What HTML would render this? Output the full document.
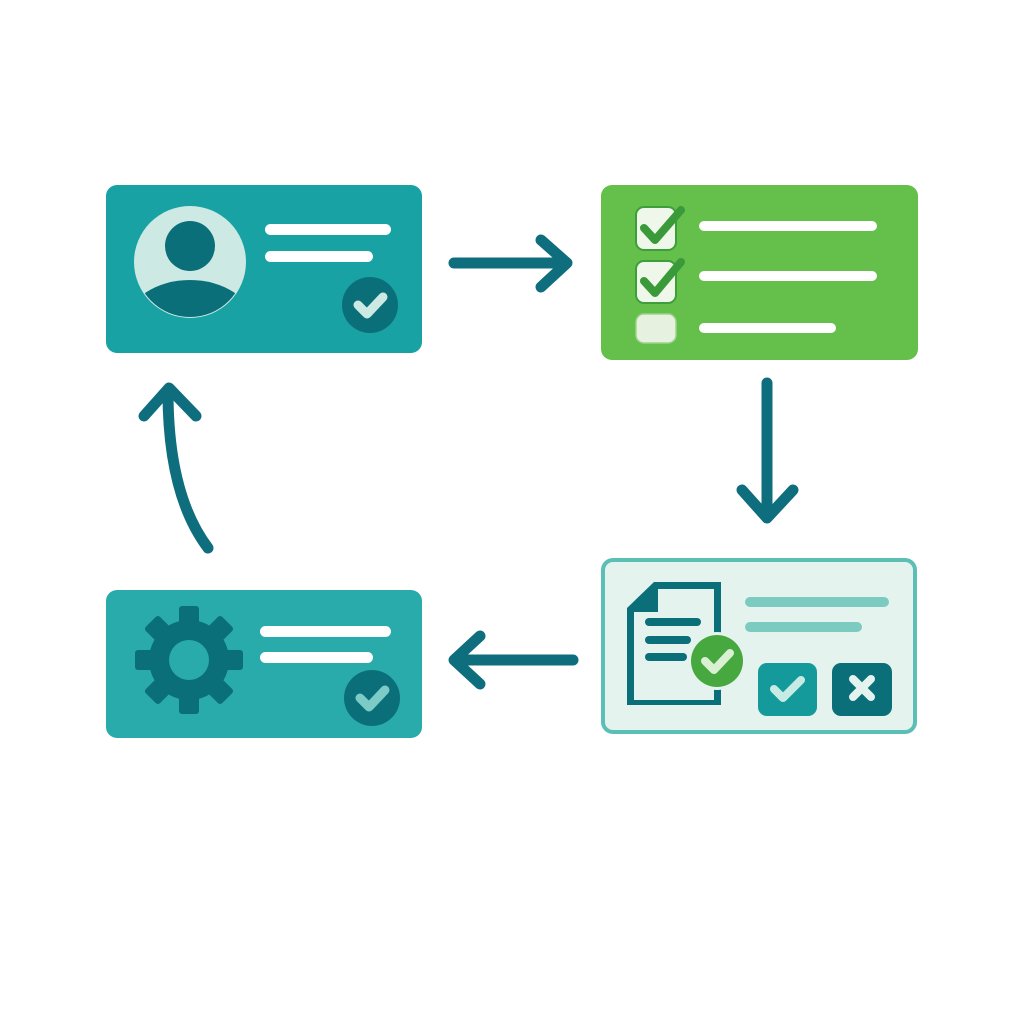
<!DOCTYPE html>
<html><head><meta charset="utf-8"><style>html,body{margin:0;padding:0;background:#fff}svg{display:block}</style></head>
<body>
<svg width="1024" height="1024" viewBox="0 0 1024 1024" xmlns="http://www.w3.org/2000/svg">
<rect width="1024" height="1024" fill="#fff"/>
<defs>
<clipPath id="av"><circle cx="190" cy="262" r="55"/></clipPath>
</defs>
<!-- Card 1 -->
<rect x="106" y="185" width="316" height="168" rx="11" fill="#18a2a3"/>
<circle cx="190" cy="262" r="56" fill="#cde9e4"/>
<g clip-path="url(#av)">
<ellipse cx="190" cy="322" rx="62" ry="42" fill="#0b6f79"/>
</g>
<circle cx="190" cy="246" r="25" fill="#0b6f79"/>
<rect x="265" y="224" width="126" height="11" rx="5.5" fill="#fff"/>
<rect x="265" y="251" width="108" height="11" rx="5.5" fill="#fff"/>
<circle cx="370" cy="305" r="28" fill="#0b6f79"/>
<path d="M358 305 L367 314 L383 297" stroke="#cde9e4" stroke-width="9" fill="none" stroke-linecap="round" stroke-linejoin="round"/>

<!-- Card 2 -->
<rect x="601" y="185" width="317" height="175" rx="11" fill="#65bf4b"/>
<rect x="636" y="207" width="40" height="43" rx="8" fill="#eef7ea" stroke="#3d9f3a" stroke-width="2"/>
<rect x="636" y="261" width="40" height="42" rx="8" fill="#eef7ea" stroke="#3d9f3a" stroke-width="2"/>
<rect x="636" y="314" width="40" height="29" rx="8" fill="#e6f1df" stroke="#9fd48c" stroke-width="1.5"/>
<path d="M644 228 L655 240 L681 210" stroke="#3a9a39" stroke-width="8" fill="none" stroke-linecap="round" stroke-linejoin="round"/>
<path d="M644 281 L655 293 L681 262" stroke="#3a9a39" stroke-width="8" fill="none" stroke-linecap="round" stroke-linejoin="round"/>
<rect x="699" y="221" width="178" height="10" rx="5" fill="#fff"/>
<rect x="699" y="271" width="178" height="10" rx="5" fill="#fff"/>
<rect x="699" y="323" width="137" height="10" rx="5" fill="#fff"/>

<!-- Card 3 -->
<rect x="603" y="560" width="312" height="172" rx="10" fill="#e5f3ef" stroke="#5bbfb5" stroke-width="4"/>
<path d="M654 582 L721 582 L721 658 L721 705 L627 705 L627 608 Z" fill="#0b6f79"/>
<path d="M658 589 L714 589 L714 700 L634 700 L634 612 L658 612 Z" fill="#e5f3ef"/>
<rect x="645" y="618" width="56" height="8" rx="4" fill="#0b6f79"/>
<rect x="645" y="636" width="46" height="8" rx="4" fill="#0b6f79"/>
<rect x="645" y="653" width="42" height="8" rx="4" fill="#0b6f79"/>
<circle cx="717" cy="661" r="29" fill="#e5f3ef"/>
<circle cx="717" cy="661" r="26" fill="#47a83f"/>
<path d="M705 661 L714 670 L730 653" stroke="#d9f0d3" stroke-width="8" fill="none" stroke-linecap="round" stroke-linejoin="round"/>
<rect x="745" y="597" width="144" height="10" rx="5" fill="#7ccbc0"/>
<rect x="745" y="622" width="117" height="10" rx="5" fill="#7ccbc0"/>
<rect x="758" y="663" width="59" height="53" rx="9" fill="#159a9b"/>
<path d="M774 689 L783 698 L801 680" stroke="#c6ebe4" stroke-width="8" fill="none" stroke-linecap="round" stroke-linejoin="round"/>
<rect x="832" y="663" width="60" height="53" rx="9" fill="#0b6f79"/>
<path d="M853 679 L871 697 M871 679 L853 697" stroke="#e5f3ef" stroke-width="8" stroke-linecap="round"/>

<!-- Card 4 -->
<rect x="106" y="590" width="316" height="148" rx="11" fill="#2aabab"/>
<g transform="translate(189,660)" fill="#0b6f79">
<circle r="40"/>
<g id="t"><rect x="-10" y="-54" width="20" height="22" rx="3"/></g>
<use href="#t" transform="rotate(45)"/>
<use href="#t" transform="rotate(90)"/>
<use href="#t" transform="rotate(135)"/>
<use href="#t" transform="rotate(180)"/>
<use href="#t" transform="rotate(225)"/>
<use href="#t" transform="rotate(270)"/>
<use href="#t" transform="rotate(315)"/>
<circle r="20" fill="#2aabab"/>
</g>
<rect x="260" y="626" width="131" height="11" rx="5.5" fill="#fff"/>
<rect x="260" y="652" width="113" height="11" rx="5.5" fill="#fff"/>
<circle cx="372" cy="698" r="28" fill="#0b6f79"/>
<path d="M360 698 L369 707 L385 690" stroke="#7ccbc6" stroke-width="9" fill="none" stroke-linecap="round" stroke-linejoin="round"/>

<!-- Arrows -->
<g stroke="#0e6e7e" stroke-width="11" fill="none" stroke-linecap="round" stroke-linejoin="round">
<path d="M454 263 L566 263 M541 240 L567 263 L541 287"/>
<path d="M767 383 L767 518 M742 490 L767 518 L793 490"/>
<path d="M573 660 L455 660 M480 636 L454 660 L480 684"/>
<path d="M208 548 Q168 495 168 392 M144 416 L169 388 L196 416"/>
</g>
</svg>
</body></html>
